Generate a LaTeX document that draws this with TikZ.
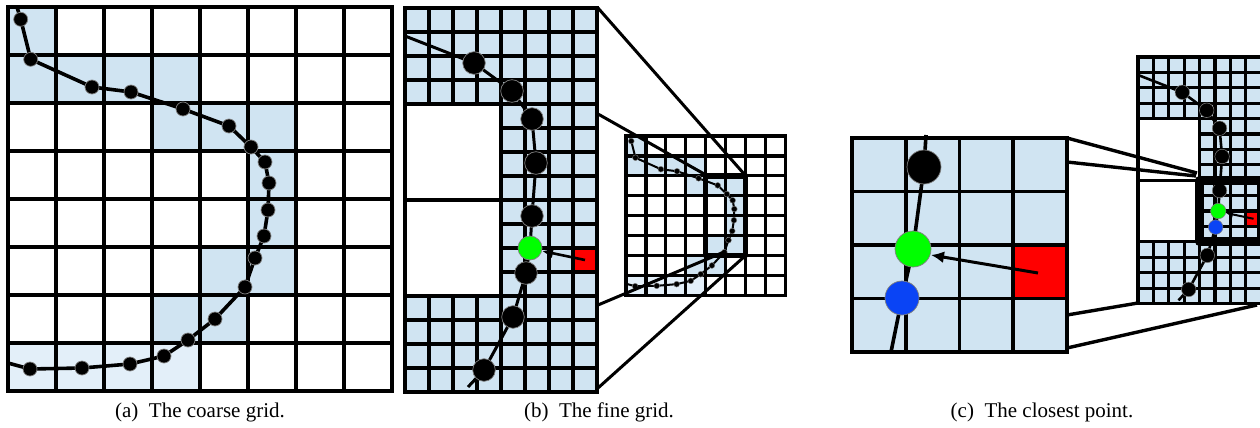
\documentclass[tikz,border=0pt]{standalone}
\usepackage{fontspec}
\setmainfont{Liberation Serif}
\usepackage{xcolor}
\definecolor{cellblue}{HTML}{D0E4F2}
\definecolor{paleblue}{HTML}{E3EFF9}
\definecolor{hitgreen}{HTML}{00FF00}
\definecolor{hitred}{HTML}{FF0000}
\definecolor{hitblue}{HTML}{0A44F5}
\definecolor{dotrim}{HTML}{7F7F7F}
\usepackage{tikz}
\usetikzlibrary{arrows.meta}

% curve samples, coarse grid units (cell = 48)
\def\coarsepts{12.7/12.3, 22.7/52.3, 84/80, 123/85, 175/102, 221/119, 243/140,
  257/155, 261/176, 260/203, 256/229, 247/251, 237/280, 207/312, 180/333,
  156/349, 122/357, 74/361, 22/362}
% curve samples, fine grid units (cell = 24)
\def\finepts{69/55, 107/83, 127/111, 131/155, 127/208, 108/309, 79/362}

\newcommand{\coarsegrid}{%
  \foreach \c/\r in {0/0,0/1,1/1,2/1,3/1,3/2,4/2,5/2,5/3,5/4,4/5,5/5,3/6,4/6}
    \fill[cellblue] (48*\c,48*\r) rectangle ++(48,48);
  \foreach \c in {0,...,3}
    \fill[paleblue] (48*\c,336) rectangle ++(48,48);
  \foreach \i in {0,...,8} {
    \draw[cgrid] (48*\i,0) -- (48*\i,384);
    \draw[cgrid] (0,48*\i) -- (384,48*\i);
  }
  \draw[ccurve] (9,0) foreach \x/\y in \coarsepts { -- (\x,\y) } -- (0,356);
  \foreach \x/\y in \coarsepts
    \filldraw[dot] (\x,\y) circle[radius=7];
}

\newcommand{\finegrid}[1]{%
  \fill[cellblue] (0,0) rectangle (192,384);
  \fill[white] (0,96) rectangle (96,288);
  \fill[hitred] (168,240) rectangle (192,264);
  \foreach \k in {0,1,2,3,4,12,13,14,15,16}
    \draw[fgrid] (0,24*\k) -- (192,24*\k);
  \foreach \k in {5,...,11}
    \draw[fgrid] (96,24*\k) -- (192,24*\k);
  \draw[fgrid] (0,192) -- (96,192);
  \foreach \i in {1,2,3} {
    \draw[fgrid] (24*\i,0) -- (24*\i,96);
    \draw[fgrid] (24*\i,288) -- (24*\i,384);
  }
  \foreach \i in {0,4,5,6,7,8}
    \draw[fgrid] (24*\i,0) -- (24*\i,384);
  \draw[fcurve] (0,28) -- (69,55) -- (107,83) -- (127,111) -- (131,155) -- (127,208)
    -- (125,240) -- (121,265) -- (108,309) -- (79,362) -- (63,379);
  \foreach \x/\y in \finepts
    \filldraw[dot] (\x,\y) circle[radius=11.3];
  \filldraw[dot, fill=#1] (121,265) circle[radius=11.3];
  \filldraw[dot, fill=hitgreen] (125,240) circle[radius=12];
  \coordinate (src) at (180,252);
  \coordinate (hit) at (137,243);
  \draw[arr] (src) -- (hit);
}

\begin{document}
\begin{tikzpicture}[x=1pt, y=-1pt,
  cgrid/.style={line width=4.6pt, line cap=rect},
  ccurve/.style={line width=3.6pt},
  fgrid/.style={line width=3.3pt, line cap=rect},
  fcurve/.style={line width=3pt},
  mgrid/.style={line width=3.8pt, line cap=rect},
  dot/.style={fill=black, draw=dotrim, line width=0.7pt},
  arr/.style={-{Latex[length=11pt, width=10pt]}, line width=2.6pt},
  zoomline/.style={line width=3pt},
  zoomframe/.style={line width=5.5pt, line join=round},
  subcap/.style={anchor=base, font=\fontsize{21}{25}\selectfont}
]
  \useasboundingbox (0,0) rectangle (1260,428);

  % (a)
  \begin{scope}[shift={(8,7)}]
    \coarsegrid
  \end{scope}

  % (b)
  \begin{scope}[shift={(405,8)}]
    \finegrid{black}
  \end{scope}
  \begin{scope}[shift={(626,136)}, scale=0.415,
      cgrid/.style={line width=3.2pt, line cap=rect},
      ccurve/.style={line width=2pt},
      dot/.style={fill=black, draw=dotrim, line width=0.4pt}]
    \coarsegrid
    \draw[zoomframe] (192,96) rectangle (288,288);
  \end{scope}
  \coordinate (b1) at (598,8);   \coordinate (m1) at (745,175);
  \coordinate (b2) at (598,114); \coordinate (m2) at (706,175);
  \coordinate (b3) at (598,305); \coordinate (m3) at (724,252);
  \coordinate (b4) at (598,388); \coordinate (m4) at (745,256);
  \draw[zoomline] (b1) -- (m1) (b2) -- (m2) (b3) -- (m3) (b4) -- (m4);

  % (c)
  \begin{scope}[shift={(852,138)}]
    \fill[cellblue] (0,0) rectangle (215,214);
    \fill[hitred] (160,107) rectangle (215,160);
    \foreach \i in {0,...,4} {
      \draw[mgrid] (53.75*\i,0) -- (53.75*\i,214);
      \draw[mgrid] (0,53.5*\i) -- (215,53.5*\i);
    }
  \end{scope}
  \draw[ccurve] (926,135) -- (924,167) -- (913,249) -- (902,298) -- (891,352);
  \filldraw[dot] (924,167) circle[radius=17];
  \filldraw[dot, fill=hitgreen] (913,249) circle[radius=18];
  \filldraw[dot, fill=hitblue] (902,298) circle[radius=17];
  \coordinate (csrc) at (1038,273);
  \coordinate (chit) at (931,255);
  \draw[arr, -{Latex[length=13pt, width=12pt]}, line width=3pt] (csrc) -- (chit);

  \begin{scope}
    \clip (1125,40) rectangle (1260,320);
    \begin{scope}[shift={(1138,57)}, scale=0.642,
        fgrid/.style={line width=3.2pt, line cap=rect},
        fcurve/.style={line width=2.6pt},
        arr/.style={-{Latex[length=7pt, width=7pt]}, line width=2pt},
        dot/.style={fill=black, draw=dotrim, line width=0.5pt}]
      \finegrid{hitblue}
      \draw[zoomframe, line width=9pt] (96,192) rectangle (192,288);
    \end{scope}
  \end{scope}
  \coordinate (c1) at (1067,138); \coordinate (n1) at (1197,173);
  \coordinate (c2) at (1067,162); \coordinate (n2) at (1196,176);
  \coordinate (c3) at (1067,315); \coordinate (n3) at (1138,303);
  \coordinate (c4) at (1067,348); \coordinate (n4) at (1257,305);
  \draw[zoomline, line width=3.4pt] (c1) -- (n1) (c2) -- (n2) (c3) -- (n3) (c4) -- (n4);

  \node[subcap] (capa) at (200,417) {(a)\enspace The coarse grid.};
  \node[subcap] (capb) at (599,417) {(b)\enspace The fine grid.};
  \node[subcap] (capc) at (1042,417) {(c)\enspace The closest point.};
\end{tikzpicture}
\end{document}
